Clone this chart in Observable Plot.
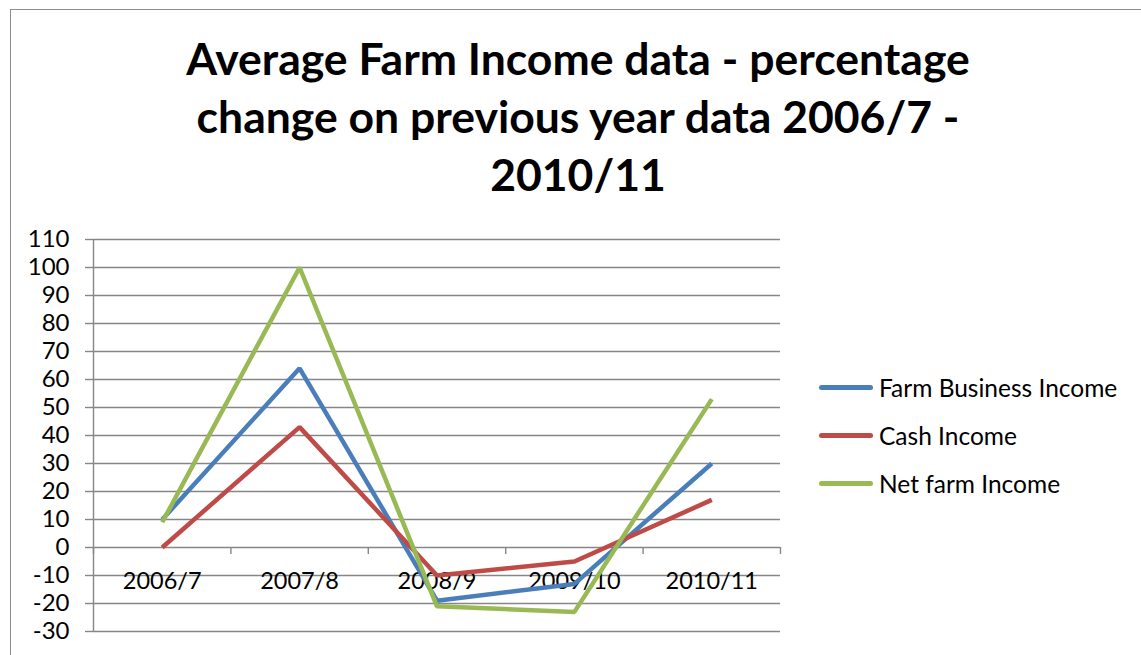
<!DOCTYPE html>
<html>
<head>
<meta charset="utf-8">
<script src="https://cdn.jsdelivr.net/npm/d3@7"></script>
<script src="https://cdn.jsdelivr.net/npm/@observablehq/plot@0.6"></script>
<style>
  html, body { margin: 0; padding: 0; background: #fff; }
  #wrap { position: relative; width: 1141px; height: 655px; overflow: hidden; font-family: Lato, "Open Sans", sans-serif; }
  #frame { position: absolute; left: 10px; top: 9px; width: 1200px; height: 700px; border-left: 1px solid #8c8c8c; border-top: 1px solid #8c8c8c; }
  #title { position: absolute; left: 10px; width: 1136px; top: 29px; text-align: center; font-weight: 700; font-size: 44.5px; line-height: 58px; color: #000; }
  #chart { position: absolute; left: 0; top: 0; }
  #legend { position: absolute; left: 819px; top: 363px; font-size: 24.5px; color: #000; }
  .row { display: flex; align-items: center; height: 48px; }
  .sw { width: 54px; height: 5px; border-radius: 3px; margin-right: 6px; }
</style>
</head>
<body>
<div id="wrap">
  <div id="frame"></div>
  <div id="chart"></div>
  <div id="title"></div>
  <div id="legend"></div>
</div>
<script>
// ---- data ----
const titleLines = [
  "Average Farm Income data - percentage",
  "change on previous year data 2006/7 -",
  "2010/11"
];
const categories = ["2006/7", "2007/8", "2008/9", "2009/10", "2010/11"];
const seriesNames = ["Farm Business Income", "Cash Income", "Net farm Income"];
const seriesColors = ["#4a7ebb", "#be4b48", "#98b954"];
const farmBusinessIncome = [10, 64, -19, -13, 30];
const cashIncome = [0, 43, -10, -5, 17];
const netFarmIncome = [9, 100, -21, -23, 53];
const yTicks = [-30, -20, -10, 0, 10, 20, 30, 40, 50, 60, 70, 80, 90, 100, 110];

// ---- build table ----
const seriesValues = [farmBusinessIncome, cashIncome, netFarmIncome];
const rows = [];
seriesNames.forEach((s, k) => {
  categories.forEach((c, i) => rows.push({series: s, category: c, xi: i + 0.5, value: seriesValues[k][i]}));
});
const catPos = categories.map((c, i) => ({category: c, xi: i + 0.5}));
const boundaries = d3.range(0, categories.length + 1);

const gridColor = "#868686";

const chart = Plot.plot({
  width: 1141,
  height: 655,
  marginLeft: 93,
  marginRight: 361,
  marginTop: 239,
  marginBottom: 24,
  style: {fontFamily: "Lato, 'Open Sans', sans-serif", background: "transparent", overflow: "visible"},
  x: {domain: [0, categories.length], axis: null},
  y: {domain: [d3.min(yTicks), d3.max(yTicks)], axis: null},
  color: {domain: seriesNames, range: seriesColors},
  marks: [
    Plot.ruleY(yTicks, {stroke: gridColor, strokeWidth: 1.4}),
    Plot.axisY(yTicks, {tickSize: 8, tickPadding: 16, fontSize: 24, stroke: gridColor, strokeWidth: 1.4, fill: "#000", label: null, tickFormat: d => String(d)}),
    Plot.ruleX([0], {stroke: gridColor, strokeWidth: 1.4}),
    Plot.ruleX(boundaries, {y1: 0, y2: 0, insetBottom: -7, stroke: gridColor, strokeWidth: 1.4}),
    Plot.text(catPos, {x: "xi", y: 0, text: "category", dy: 34, fontSize: 23.5, fill: "#000"}),
    Plot.line(rows, {x: "xi", y: "value", z: "series", stroke: "series", strokeWidth: 4.5, strokeLinejoin: "miter", strokeLinecap: "butt"})
  ]
});
document.getElementById("chart").appendChild(chart);

document.getElementById("title").innerHTML = titleLines.map(t => `<div>${t}</div>`).join("");
document.getElementById("legend").innerHTML = seriesNames.map((s, k) =>
  `<div class="row"><div class="sw" style="background:${seriesColors[k]}"></div><span>${s}</span></div>`).join("");
</script>
</body>
</html>
